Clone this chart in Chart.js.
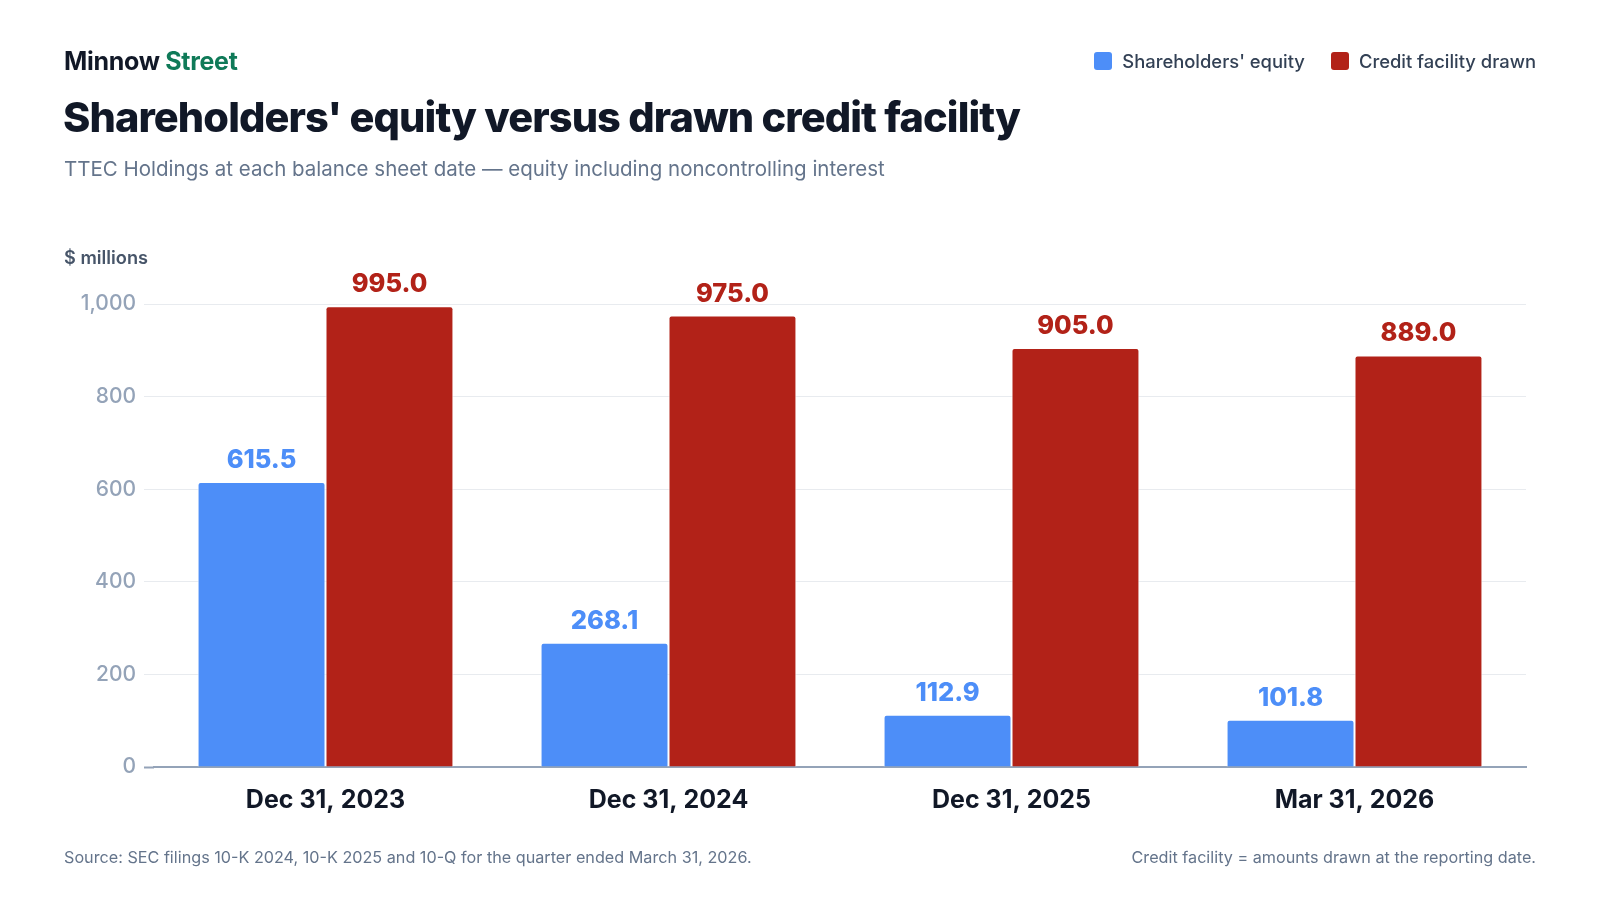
<!DOCTYPE html>
<html>
<head>
<meta charset="utf-8">
<script src="https://cdn.jsdelivr.net/npm/chart.js@4"></script>
<style>
  html,body{margin:0;padding:0;background:#ffffff;}
  body{width:1600px;height:900px;position:relative;overflow:hidden;font-family:Inter,"Noto Sans",sans-serif;}
  .abs{position:absolute;white-space:nowrap;}
  #brand{left:64px;top:46px;font-size:25px;font-weight:700;color:#111827;letter-spacing:-0.3px;}
  #brand span{color:#0f7a58;}
  #title{left:63px;top:92px;font-size:41.5px;font-weight:800;color:#111827;letter-spacing:-0.9px;}
  #subtitle{left:64px;top:156px;font-size:20.5px;font-weight:400;color:#64748b;}
  #unit{left:64px;top:246px;font-size:18.2px;font-weight:600;color:#475569;}
  #legend{right:64px;top:50px;display:flex;gap:26px;font-size:18.4px;font-weight:500;color:#334155;}
  #legend .item{display:flex;align-items:center;gap:10px;}
  #legend .sw{width:18px;height:18px;border-radius:3px;display:inline-block;}
  #src{left:64px;top:847px;font-size:16.2px;color:#64748b;}
  #note{right:64px;top:847px;font-size:16.2px;color:#64748b;}
  #wrap{position:absolute;left:0;top:0;width:1600px;height:900px;}
</style>
</head>
<body>
<div id="wrap"><canvas id="c" width="1600" height="900"></canvas></div>
<div class="abs" id="brand">Minnow <span>Street</span></div>
<div class="abs" id="title">Shareholders' equity versus drawn credit facility</div>
<div class="abs" id="subtitle">TTEC Holdings at each balance sheet date — equity including noncontrolling interest</div>
<div class="abs" id="unit">$ millions</div>
<div class="abs" id="legend"></div>
<div class="abs" id="src">Source: SEC filings 10-K 2024, 10-K 2025 and 10-Q for the quarter ended March 31, 2026.</div>
<div class="abs" id="note">Credit facility = amounts drawn at the reporting date.</div>
<script>
const categories = ["Dec 31, 2023", "Dec 31, 2024", "Dec 31, 2025", "Mar 31, 2026"];
const equity = [615.5, 268.1, 112.9, 101.8];
const creditDrawn = [995.0, 975.0, 905.0, 889.0];
const yTicks = [0, 200, 400, 600, 800, 1000];
const seriesNames = ["Shareholders' equity", "Credit facility drawn"];
const seriesColors = ["#4d8ef8", "#b22218"];

const legend = document.getElementById('legend');
seriesNames.forEach((n, i) => {
  const it = document.createElement('div');
  it.className = 'item';
  it.innerHTML = '<span class="sw" style="background:' + seriesColors[i] + '"></span><span>' + n + '</span>';
  legend.appendChild(it);
});

const valueLabels = {
  id: 'valueLabels',
  afterDatasetsDraw(chart) {
    const ctx = chart.ctx;
    ctx.save();
    ctx.font = '800 25.5px Inter, "Noto Sans", sans-serif';
    ctx.textAlign = 'center';
    ctx.textBaseline = 'alphabetic';
    chart.data.datasets.forEach((ds, di) => {
      const meta = chart.getDatasetMeta(di);
      ctx.fillStyle = seriesColors[di];
      meta.data.forEach((bar, i) => {
        ctx.fillText(ds.data[i].toFixed(1), bar.x, bar.y - 14);
      });
    });
    ctx.restore();
  }
};

new Chart(document.getElementById('c'), {
  type: 'bar',
  data: {
    labels: categories,
    datasets: [
      { label: seriesNames[0], data: equity, backgroundColor: seriesColors[0] },
      { label: seriesNames[1], data: creditDrawn, backgroundColor: seriesColors[1] }
    ]
  },
  options: {
    responsive: false,
    animation: false,
    devicePixelRatio: 1,
    layout: { padding: { left: 63, right: 74, top: 304, bottom: 73 } },
    datasets: {
      bar: {
        categoryPercentage: 0.746,
        barPercentage: 1.0,
        borderWidth: 1,
        borderColor: '#ffffff',
        borderSkipped: 'bottom',
        borderRadius: { topLeft: 3, topRight: 3, bottomLeft: 0, bottomRight: 0 }
      }
    },
    plugins: {
      legend: { display: false },
      title: { display: false },
      tooltip: { enabled: false }
    },
    scales: {
      x: {
        grid: { display: false, drawTicks: false },
        border: { display: true, color: '#94a3b8', width: 2 },
        ticks: {
          color: '#111827',
          font: { family: 'Inter, "Noto Sans", sans-serif', size: 25, weight: '700' },
          padding: 18
        },
        afterFit(s) { s.height = 60; }
      },
      y: {
        min: 0,
        max: 1000,
        afterBuildTicks(s) { s.ticks = yTicks.map(v => ({ value: v })); },
        grid: {
          color: '#e8ebef',
          lineWidth: 1,
          drawTicks: true,
          tickLength: 10,
          tickColor: ctx => (ctx.tick && ctx.tick.value === 0) ? '#94a3b8' : '#e8ebef',
          tickWidth: ctx => (ctx.tick && ctx.tick.value === 0) ? 2 : 1
        },
        border: { display: false },
        ticks: {
          color: '#94a3b8',
          font: { family: 'Inter, "Noto Sans", sans-serif', size: 21, weight: '500' },
          padding: 8,
          callback: v => v.toLocaleString('en-US')
        },
        afterFit(s) { s.width = 91; }
      }
    }
  },
  plugins: [valueLabels]
});
</script>
</body>
</html>
